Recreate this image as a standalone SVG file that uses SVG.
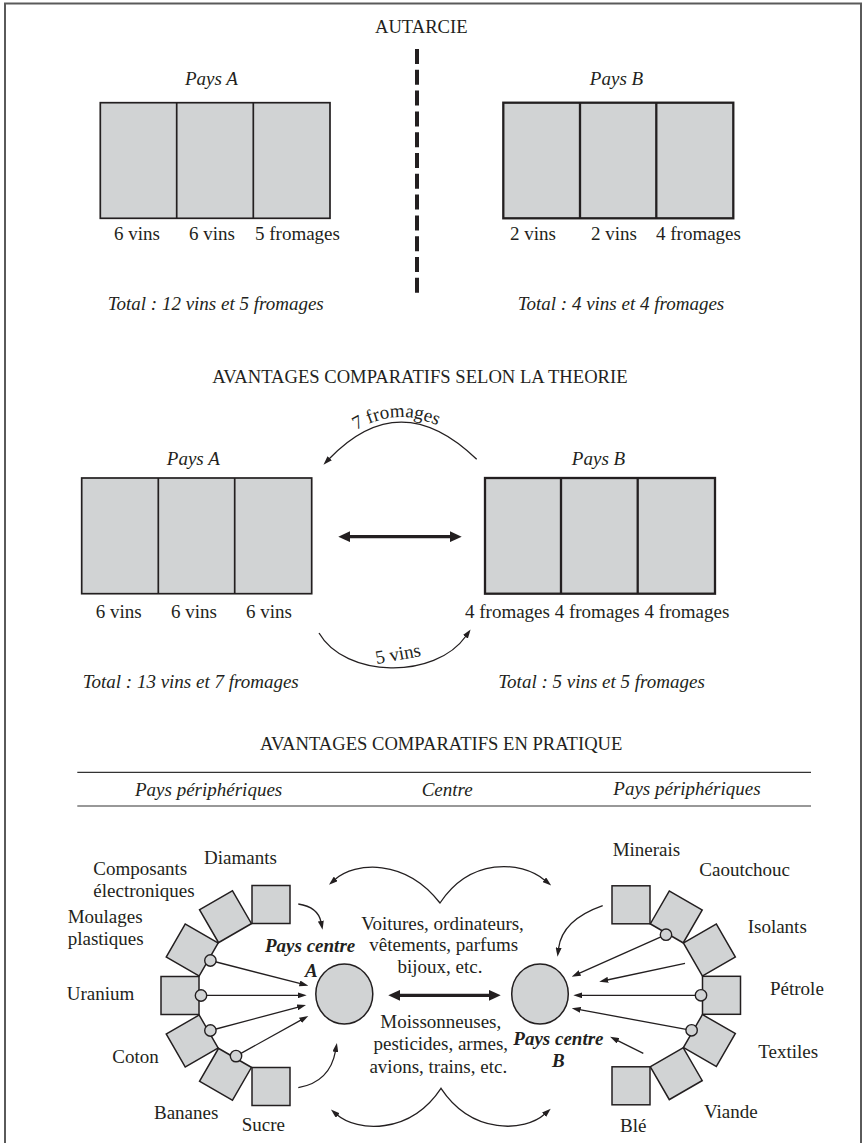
<svg xmlns="http://www.w3.org/2000/svg" width="863" height="1143" viewBox="0 0 863 1143">
<style>
 text { font-family: "Liberation Serif", "Times New Roman", serif; font-size: 19px; fill: #231f20; }
 .title { font-size: 18.6px; }
 .it { font-style: italic; }
 .bi { font-style: italic; font-weight: bold; }
 .mid { text-anchor: middle; }
 .cellA { fill: #d1d3d4; stroke: #231f20; stroke-width: 1.7; }
 .cellB { fill: #d1d3d4; stroke: #231f20; stroke-width: 2.3; }
 .divA { stroke: #231f20; stroke-width: 1.7; }
 .divB { stroke: #231f20; stroke-width: 2.3; }
 .sq { fill: #d1d3d4; stroke: #231f20; stroke-width: 1.5; }
 .dot { fill: #d1d3d4; stroke: #231f20; stroke-width: 1.4; }
 .ctr { fill: #d1d3d4; stroke: #231f20; stroke-width: 1.5; }
 .arr { fill: none; stroke: #231f20; stroke-width: 1.3; marker-end: url(#ah); }
 .arr2 { fill: none; stroke: #231f20; stroke-width: 1.3; marker-start: url(#ah); marker-end: url(#ah); }
 .thick { fill: none; stroke: #231f20; stroke-width: 3.2; marker-start: url(#ahb); marker-end: url(#ahb); }
 .rule { stroke: #333333; stroke-width: 1.2; }
</style>
<defs>
 <marker id="ah" viewBox="0 0 9 6" refX="1" refY="3" markerWidth="9" markerHeight="6" markerUnits="userSpaceOnUse" orient="auto-start-reverse">
  <path d="M0,0 L9,3 L0,6 z" fill="#231f20"/>
 </marker>
 <marker id="ahb" viewBox="0 0 12 11" refX="1" refY="5.5" markerWidth="12" markerHeight="11" markerUnits="userSpaceOnUse" orient="auto-start-reverse">
  <path d="M0,0 L12,5.5 L0,11 z" fill="#231f20"/>
 </marker>
 <path id="p7" d="M 330,450 Q 401,384 472,450"/>
</defs>

<rect x="5" y="3.5" width="856" height="1150" fill="none" stroke="#5a5a5a" stroke-width="2"/>

<!-- Section 1: Autarcie -->
<text class="title" x="375" y="32.5">AUTARCIE</text>
<line x1="417" y1="49" x2="417" y2="293" stroke="#231f20" stroke-width="4" stroke-dasharray="15 5.8"/>

<g id="autarcie-pays-a">
 <text class="it mid" x="211.5" y="85">Pays A</text>
 <rect class="cellA" x="100.3" y="102.7" width="229.7" height="115.6"/>
 <line class="divA" x1="176.7" y1="102.7" x2="176.7" y2="218.3"/>
 <line class="divA" x1="253.3" y1="102.7" x2="253.3" y2="218.3"/>
 <text x="114" y="240">6 vins</text>
 <text x="189" y="240">6 vins</text>
 <text x="255" y="240">5 fromages</text>
 <text class="it" x="107.7" y="309.5">Total : 12 vins et 5 fromages</text>
</g>

<g id="autarcie-pays-b">
 <text class="it mid" x="616.5" y="85">Pays B</text>
 <rect class="cellB" x="503.3" y="102.7" width="230" height="115.6"/>
 <line class="divB" x1="580" y1="102.7" x2="580" y2="218.3"/>
 <line class="divB" x1="656.3" y1="102.7" x2="656.3" y2="218.3"/>
 <text x="510" y="240">2 vins</text>
 <text x="591" y="240">2 vins</text>
 <text x="656" y="240">4 fromages</text>
 <text class="it" x="517.7" y="309.5">Total : 4 vins et 4 fromages</text>
</g>

<!-- Section 2: theorie -->
<text class="title" x="212.3" y="382.7">AVANTAGES COMPARATIFS SELON LA THEORIE</text>

<g id="theorie-pays-a">
 <text class="it mid" x="193.3" y="465">Pays A</text>
 <rect class="cellA" x="81.7" y="478" width="230" height="115.7"/>
 <line class="divA" x1="158.3" y1="478" x2="158.3" y2="593.7"/>
 <line class="divA" x1="234.7" y1="478" x2="234.7" y2="593.7"/>
 <text x="95.7" y="618.3">6 vins</text>
 <text x="171" y="618.3">6 vins</text>
 <text x="246" y="618.3">6 vins</text>
 <text class="it" x="82.7" y="687.7">Total : 13 vins et 7 fromages</text>
</g>

<g id="theorie-pays-b">
 <text class="it mid" x="598.5" y="465">Pays B</text>
 <rect class="cellB" x="485" y="478" width="230" height="115.7"/>
 <line class="divB" x1="561" y1="478" x2="561" y2="593.7"/>
 <line class="divB" x1="637.7" y1="478" x2="637.7" y2="593.7"/>
 <text x="465" y="618.3">4 fromages 4 fromages 4 fromages</text>
 <text class="it" x="498.3" y="687.7">Total : 5 vins et 5 fromages</text>
</g>

<g id="connectors-theorie">
 <path class="arr" d="M 476.7,459.3 Q 400,385 329,459"/>
 <text><textPath href="#p7" startOffset="47%" text-anchor="middle">7 fromages</textPath></text>
 <path class="arr" d="M 319,633 C 345,678 435,680 466,636"/>
 <text class="mid" x="399" y="660" transform="rotate(-10 399 660)">5 vins</text>
 <path class="thick" d="M 349.3,536.7 L 450.7,536.7"/>
</g>

<!-- Section 3: pratique -->
<text class="title" x="260" y="750">AVANTAGES COMPARATIFS EN PRATIQUE</text>
<line class="rule" x1="77.3" y1="772.3" x2="811" y2="772.3"/>
<line class="rule" x1="77.3" y1="806" x2="811" y2="806"/>
<text class="it" x="135" y="796">Pays périphériques</text>
<text class="it" x="421.7" y="796">Centre</text>
<text class="it" x="613.3" y="795">Pays périphériques</text>

<g id="connectors-pratique">
 <path class="arr" d="M 210.4,960.5 L 300.6,983.7"/>
 <path class="arr" d="M 201,995.3 L 298.7,995.3"/>
 <path class="arr" d="M 210.4,1030.5 L 298.3,1007.1"/>
 <path class="arr" d="M 236,1056.1 L 301.3,1019.9"/>
 <path class="arr" d="M 298.3,904 Q 318,907 321,922"/>
 <path class="arr" d="M 298.3,1087.7 Q 330,1082 335.5,1051"/>
 <path class="arr" d="M 666,934.7 L 579,973.4"/>
 <path class="arr" d="M 685,963.3 L 607.1,980"/>
 <path class="arr" d="M 701,995.3 L 581.3,995.3"/>
 <path class="arr" d="M 691.6,1030.3 L 579.6,1009.7"/>
 <path class="arr" d="M 643.3,1053.3 L 617.2,1040.3"/>
 <path class="arr" d="M 602.7,905.7 Q 562,920 558.5,948.7"/>
 <path class="arr2" d="M 335,879.5 C 355,862 405,858 440,903 C 470,858 520,860 545,880.4"/>
 <path class="arr2" d="M 337,1114.8 C 357,1132 410,1135 441,1088.3 C 472,1135 525,1132 544.8,1114.1"/>
 <path class="thick" d="M 399.3,995.3 L 489.7,995.3"/>
</g>

<g id="echanges-centre">
 <text class="mid" x="442.5" y="929.5">Voitures, ordinateurs,</text>
 <text class="mid" x="443.7" y="951">vêtements, parfums</text>
 <text class="mid" x="440" y="972.5">bijoux, etc.</text>
 <text class="mid" x="440.8" y="1028.3">Moissonneuses,</text>
 <text class="mid" x="440.8" y="1050">pesticides, armes,</text>
 <text class="mid" x="438.3" y="1073.3">avions, trains, etc.</text>
</g>

<g id="pays-centre-a">
 <ellipse class="ctr" cx="344.3" cy="994" rx="28.5" ry="30"/>
 <text class="bi" x="265" y="951.7">Pays centre</text>
 <text class="bi mid" x="311.3" y="976.7">A</text>
</g>

<g id="pays-centre-b">
 <ellipse class="ctr" cx="540" cy="994" rx="28.3" ry="30"/>
 <text class="bi" x="513.3" y="1045">Pays centre</text>
 <text class="bi mid" x="558.3" y="1066.7">B</text>
</g>

<g id="peripherie-a">
 <g id="diamants"><rect class="sq" x="72" y="-19" width="38" height="38" transform="translate(271 995.5) rotate(270)"/><text x="204" y="864">Diamants</text></g>
 <g id="composants"><rect class="sq" x="72" y="-19" width="38" height="38" transform="translate(271 995.5) rotate(240)"/><text x="93.3" y="875">Composants</text><text x="93.3" y="896.7">électroniques</text></g>
 <g id="moulages"><rect class="sq" x="72" y="-19" width="38" height="38" transform="translate(271 995.5) rotate(210)"/><circle class="dot" cx="210.4" cy="960.5" r="5.7"/><text x="67.7" y="922.7">Moulages</text><text x="67.7" y="945">plastiques</text></g>
 <g id="uranium"><rect class="sq" x="72" y="-19" width="38" height="38" transform="translate(271 995.5) rotate(180)"/><circle class="dot" cx="201" cy="995.5" r="5.7"/><text x="66.7" y="1000">Uranium</text></g>
 <g id="coton"><rect class="sq" x="72" y="-19" width="38" height="38" transform="translate(271 995.5) rotate(150)"/><circle class="dot" cx="210.4" cy="1030.5" r="5.7"/><text x="112.3" y="1063.3">Coton</text></g>
 <g id="bananes"><rect class="sq" x="72" y="-19" width="38" height="38" transform="translate(271 995.5) rotate(120)"/><circle class="dot" cx="236" cy="1056.1" r="5.7"/><text x="154" y="1119.3">Bananes</text></g>
 <g id="sucre"><rect class="sq" x="72" y="-19" width="38" height="38" transform="translate(271 995.5) rotate(90)"/><text x="241.7" y="1130.7">Sucre</text></g>
</g>

<g id="peripherie-b">
 <g id="minerais"><rect class="sq" x="71.5" y="-19" width="38" height="38" transform="translate(631 995.3) rotate(270)"/><text x="612.7" y="856">Minerais</text></g>
 <g id="caoutchouc"><rect class="sq" x="71.5" y="-19" width="38" height="38" transform="translate(631 995.3) rotate(300)"/><circle class="dot" cx="666" cy="934.7" r="5.7"/><text x="699.3" y="876">Caoutchouc</text></g>
 <g id="isolants"><rect class="sq" x="71.5" y="-19" width="38" height="38" transform="translate(631 995.3) rotate(330)"/><text x="747.7" y="933.3">Isolants</text></g>
 <g id="petrole"><rect class="sq" x="71.5" y="-19" width="38" height="38" transform="translate(631 995.3)"/><circle class="dot" cx="701" cy="995.3" r="5.7"/><text x="770" y="995">Pétrole</text></g>
 <g id="textiles"><rect class="sq" x="71.5" y="-19" width="38" height="38" transform="translate(631 995.3) rotate(30)"/><circle class="dot" cx="691.6" cy="1030.3" r="5.7"/><text x="758.3" y="1058.3">Textiles</text></g>
 <g id="viande"><rect class="sq" x="71.5" y="-19" width="38" height="38" transform="translate(631 995.3) rotate(60)"/><text x="704" y="1118.3">Viande</text></g>
 <g id="ble"><rect class="sq" x="71.5" y="-19" width="38" height="38" transform="translate(631 995.3) rotate(90)"/><text x="620" y="1131.7">Blé</text></g>
</g>
</svg>
